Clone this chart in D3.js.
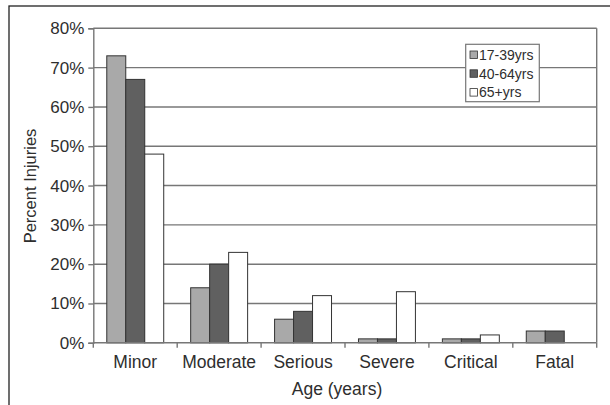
<!DOCTYPE html>
<html>
<head>
<meta charset="utf-8">
<script src="https://cdn.jsdelivr.net/npm/d3@7"></script>
<style>
  html, body { margin: 0; padding: 0; background: #fff; }
  svg { display: block; }
  text { font-family: "Liberation Sans", Arial, sans-serif; fill: #2e2e2e; }
</style>
</head>
<body>
<svg id="chart" width="610" height="405"></svg>
<script>
const categories = ["Minor", "Moderate", "Serious", "Severe", "Critical", "Fatal"];
const seriesNames = ["17-39yrs", "40-64yrs", "65+yrs"];
const values17to39 = [73, 14, 6, 1, 1, 3];
const values40to64 = [67, 20, 8, 1, 1, 3];
const values65plus = [48, 23, 12, 13, 2, 0];
const yTicks = [0, 10, 20, 30, 40, 50, 60, 70, 80];
const colors = ["#a9a9a9", "#606060", "#ffffff"];

const seriesValues = [values17to39, values40to64, values65plus];

const svg = d3.select("#chart");
const mLeft = 93.3, mRight = 596.7, mTop = 28.3, mBottom = 342.8;

// outer frame
svg.append("rect").attr("x", 9).attr("y", 6).attr("width", 700).attr("height", 500)
  .attr("fill", "none").attr("stroke", "#222").attr("stroke-width", 1.3);

const x0 = d3.scaleBand().domain(categories).range([mLeft, mRight]).paddingInner(0).paddingOuter(0);
const x1 = d3.scaleBand().domain(seriesNames).range([0, x0.bandwidth()]).paddingInner(0).paddingOuter(0.71);
const y = d3.scaleLinear().domain([0, 80]).range([mBottom, mTop]);

// gridlines
svg.append("g").selectAll("line").data(yTicks.filter(d => d > 0)).join("line")
  .attr("x1", mLeft).attr("x2", mRight)
  .attr("y1", d => y(d)).attr("y2", d => y(d))
  .attr("stroke", "#777").attr("stroke-width", 1.4);

// right border of plot area
svg.append("line").attr("x1", mRight).attr("x2", mRight).attr("y1", mTop).attr("y2", mBottom)
  .attr("stroke", "#777").attr("stroke-width", 1.4);

// bars
const g = svg.append("g");
categories.forEach((c, ci) => {
  seriesNames.forEach((s, si) => {
    const v = seriesValues[si][ci];
    if (v <= 0) return;
    g.append("rect")
      .attr("x", x0(c) + x1(s))
      .attr("y", y(v))
      .attr("width", x1.bandwidth())
      .attr("height", y(0) - y(v))
      .attr("fill", colors[si])
      .attr("stroke", "#333")
      .attr("stroke-width", 1);
  });
});

// y axis
const yAxis = d3.axisLeft(y).tickValues(yTicks).tickFormat(d => d + "%").tickSize(5).tickPadding(4);
const ya = svg.append("g").attr("transform", `translate(${mLeft},0)`).call(yAxis);
ya.select(".domain").attr("stroke", "#777").attr("stroke-width", 1.4);
ya.selectAll(".tick line").attr("stroke", "#777").attr("stroke-width", 1.4);
ya.selectAll(".tick text").attr("font-size", 17).attr("fill", "#2e2e2e")
  .style("font-family", "'Liberation Sans', Arial, sans-serif");

// x axis
const boundaries = categories.map(c => x0(c)).concat([mRight]);
const xa = svg.append("g");
xa.append("line").attr("x1", mLeft).attr("x2", mRight).attr("y1", mBottom).attr("y2", mBottom)
  .attr("stroke", "#777").attr("stroke-width", 1.4);
xa.selectAll("line.tk").data(boundaries).join("line").attr("class", "tk")
  .attr("x1", d => d).attr("x2", d => d).attr("y1", mBottom).attr("y2", mBottom + 5)
  .attr("stroke", "#777").attr("stroke-width", 1.4);
xa.selectAll("text").data(categories).join("text")
  .attr("x", d => x0(d) + x0.bandwidth() / 2)
  .attr("y", 368)
  .attr("text-anchor", "middle")
  .attr("font-size", 17.5)
  .text(d => d);

// axis titles
svg.append("text").attr("x", 337).attr("y", 395).attr("text-anchor", "middle")
  .attr("font-size", 17.5).text("Age (years)");
svg.append("text").attr("transform", "translate(36,186) rotate(-90)")
  .attr("text-anchor", "middle").attr("font-size", 16.5).text("Percent Injuries");

// legend
const lg = svg.append("g");
lg.append("rect").attr("x", 465.7).attr("y", 44.3).attr("width", 73.6).attr("height", 57.4)
  .attr("fill", "#fff").attr("stroke", "#777").attr("stroke-width", 1.2);
seriesNames.forEach((s, i) => {
  const cy = 55 + i * 18.8;
  lg.append("rect").attr("x", 470).attr("y", cy - 4).attr("width", 7.5).attr("height", 7.5)
    .attr("fill", colors[i]).attr("stroke", "#333").attr("stroke-width", 0.8);
  lg.append("text").attr("x", 479).attr("y", cy + 4.8).attr("font-size", 14).text(s);
});
</script>
</body>
</html>
